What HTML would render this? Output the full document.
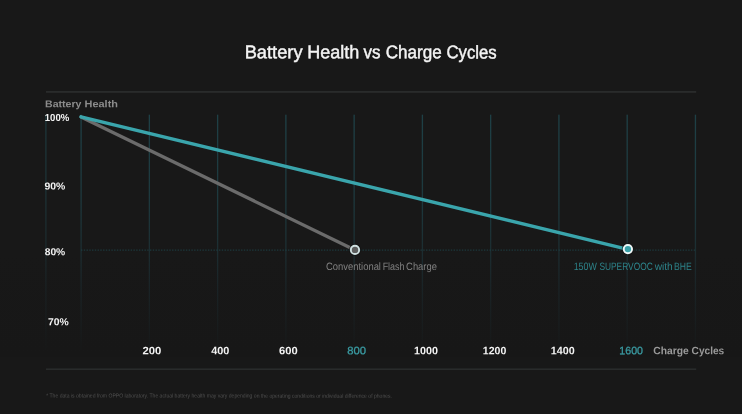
<!DOCTYPE html>
<html><head><meta charset="utf-8">
<title>Battery Health vs Charge Cycles</title>
<style>
html,body{margin:0;padding:0;background:#181818;}
body{width:742px;height:414px;overflow:hidden;position:relative;font-family:"Liberation Sans",sans-serif;}
svg{position:absolute;left:0;top:0;display:block}
text{font-family:"Liberation Sans",sans-serif;text-rendering:geometricPrecision;}
.g{fill:url(#vg)}
</style></head><body>
<svg width="742" height="414" viewBox="0 0 742 414">
<defs>
<linearGradient id="vg" x1="0" y1="114.7" x2="0" y2="350" gradientUnits="userSpaceOnUse">
<stop offset="0" stop-color="#1e4046"/>
<stop offset="0.35" stop-color="#1d393e"/>
<stop offset="0.55" stop-color="#1c2f33"/>
<stop offset="0.72" stop-color="#1a2427"/>
<stop offset="1" stop-color="#171818"/>
</linearGradient>
<linearGradient id="fade" x1="0" y1="250" x2="0" y2="357" gradientUnits="userSpaceOnUse"><stop offset="0" stop-color="#171717" stop-opacity="0"/><stop offset="1" stop-color="#171717" stop-opacity="1"/></linearGradient>
</defs>
<rect width="742" height="414" fill="#181818"/>
<g id="shapes">
<rect x="0" y="250" width="742" height="107" fill="url(#fade)"/>
<rect x="46" y="91.05" width="650.2" height="1.7" fill="#2b2d2d"/>
<rect x="46" y="368.4" width="650.2" height="1.6" fill="#292b2b"/>
<rect class="g" x="45.3" y="114.7" width="1.2" height="235.3" opacity="0.8"/>
<rect class="g" x="80.45" y="114.7" width="1.3" height="235.3"/>
<rect class="g" x="148.71" y="114.7" width="1.3" height="235.3"/>
<rect class="g" x="216.97" y="114.7" width="1.3" height="235.3"/>
<rect class="g" x="285.23" y="114.7" width="1.3" height="235.3"/>
<rect class="g" x="353.49" y="114.7" width="1.3" height="235.3"/>
<rect class="g" x="421.75" y="114.7" width="1.3" height="235.3"/>
<rect class="g" x="490.01" y="114.7" width="1.3" height="235.3"/>
<rect class="g" x="558.27" y="114.7" width="1.3" height="235.3"/>
<rect class="g" x="626.53" y="114.7" width="1.3" height="235.3"/>
<rect class="g" x="694.79" y="114.7" width="1.3" height="235.3"/>
<line x1="81" y1="250.1" x2="696" y2="250.1" stroke="#1e4146" stroke-width="1" stroke-dasharray="1.4 1.36"/>
<line x1="81" y1="116.9" x2="354.9" y2="250" stroke="#6b6b6b" stroke-width="3.3" stroke-linecap="round"/>
<line x1="81" y1="116.8" x2="627.8" y2="249.3" stroke="#3aa5ac" stroke-width="3.3" stroke-linecap="round"/>
<circle cx="355" cy="249.9" r="5.7" fill="none" stroke="#111" stroke-width="1" opacity="0.6"/>
<circle cx="355" cy="249.9" r="4.15" fill="#5c5d5d" stroke="#cfe0e0" stroke-width="1.9"/>
<circle cx="627.9" cy="249.1" r="5.7" fill="none" stroke="#111" stroke-width="1" opacity="0.6"/>
<circle cx="627.9" cy="249.1" r="4.15" fill="#38a0a8" stroke="#eef7f7" stroke-width="1.9"/>
</g>
<g id="texts">
<text y="58.30" font-size="18.4" font-weight="normal" fill="#f4f4f4" transform="rotate(0.05 371.1 51.9)" stroke="#f4f4f4" stroke-width="0.45"><tspan id="t0" x="244.68" textLength="57.91" lengthAdjust="spacingAndGlyphs">Battery</tspan> <tspan id="t1" x="307.30" textLength="52.08" lengthAdjust="spacingAndGlyphs">Health</tspan> <tspan id="t2" x="363.60" textLength="17.00" lengthAdjust="spacingAndGlyphs">vs</tspan> <tspan id="t3" x="385.79" textLength="56.02" lengthAdjust="spacingAndGlyphs">Charge</tspan> <tspan id="t4" x="446.49" textLength="50.22" lengthAdjust="spacingAndGlyphs">Cycles</tspan></text>
<text y="107.30" font-size="10" font-weight="bold" fill="#8c8c8c" transform="rotate(0.05 81.5 103.8)" ><tspan id="t5" x="45.04" textLength="36.46" lengthAdjust="spacingAndGlyphs">Battery</tspan> <tspan id="t6" x="84.52" textLength="33.45" lengthAdjust="spacingAndGlyphs">Health</tspan></text>
<text y="121.10" font-size="10.1" font-weight="bold" fill="#f4f4f4" transform="rotate(0.05 57.2 117.6)" ><tspan id="t7" x="44.79" textLength="24.52" lengthAdjust="spacingAndGlyphs">100%</tspan></text>
<text y="189.60" font-size="10.2" font-weight="bold" fill="#f4f4f4" transform="rotate(0.05 54.9 186.0)" ><tspan id="t8" x="44.44" textLength="20.82" lengthAdjust="spacingAndGlyphs">90%</tspan></text>
<text y="255.20" font-size="10.2" font-weight="bold" fill="#f4f4f4" transform="rotate(0.05 54.9 251.6)" ><tspan id="t9" x="44.69" textLength="20.56" lengthAdjust="spacingAndGlyphs">80%</tspan></text>
<text y="325.30" font-size="10.2" font-weight="bold" fill="#f4f4f4" transform="rotate(0.05 58.5 321.7)" ><tspan id="t10" x="48.09" textLength="20.72" lengthAdjust="spacingAndGlyphs">70%</tspan></text>
<text y="354.30" font-size="10.8" font-weight="bold" fill="#f4f4f4" transform="rotate(0.05 151.8 350.5)" ><tspan id="t11" x="142.54" textLength="18.83" lengthAdjust="spacingAndGlyphs">200</tspan></text>
<text y="354.30" font-size="10.8" font-weight="bold" fill="#f4f4f4" transform="rotate(0.05 220.1 350.5)" ><tspan id="t12" x="211.29" textLength="18.12" lengthAdjust="spacingAndGlyphs">400</tspan></text>
<text y="354.30" font-size="10.8" font-weight="bold" fill="#f4f4f4" transform="rotate(0.05 288.4 350.5)" ><tspan id="t13" x="279.08" textLength="18.63" lengthAdjust="spacingAndGlyphs">600</tspan></text>
<text y="354.30" font-size="10.8" font-weight="normal" fill="#3a9aa1" transform="rotate(0.05 356.6 350.5)" stroke="#3a9aa1" stroke-width="0.3"><tspan id="t14" x="347.24" textLength="18.82" lengthAdjust="spacingAndGlyphs">800</tspan></text>
<text y="354.30" font-size="10.8" font-weight="bold" fill="#f4f4f4" transform="rotate(0.05 426.1 350.5)" ><tspan id="t15" x="414.03" textLength="23.89" lengthAdjust="spacingAndGlyphs">1000</tspan></text>
<text y="354.30" font-size="10.8" font-weight="bold" fill="#f4f4f4" transform="rotate(0.05 494.7 350.5)" ><tspan id="t16" x="482.83" textLength="23.43" lengthAdjust="spacingAndGlyphs">1200</tspan></text>
<text y="354.30" font-size="10.8" font-weight="bold" fill="#f4f4f4" transform="rotate(0.05 562.8 350.5)" ><tspan id="t17" x="550.82" textLength="23.89" lengthAdjust="spacingAndGlyphs">1400</tspan></text>
<text y="354.30" font-size="10.8" font-weight="normal" fill="#3a9aa1" transform="rotate(0.05 631.3 350.5)" stroke="#3a9aa1" stroke-width="0.3"><tspan id="t18" x="619.33" textLength="23.64" lengthAdjust="spacingAndGlyphs">1600</tspan></text>
<text y="354.30" font-size="10.8" font-weight="bold" fill="#9a9a9a" transform="rotate(0.05 688.6 350.5)" ><tspan id="t19" x="653.25" textLength="35.51" lengthAdjust="spacingAndGlyphs">Charge</tspan> <tspan id="t20" x="691.59" textLength="32.62" lengthAdjust="spacingAndGlyphs">Cycles</tspan></text>
<text y="270.00" font-size="10.6" font-weight="normal" fill="#808080" transform="rotate(0.05 381.4 266.3)" ><tspan id="t21" x="326.09" textLength="54.87" lengthAdjust="spacingAndGlyphs">Conventional</tspan> <tspan id="t22" x="382.66" textLength="21.87" lengthAdjust="spacingAndGlyphs">Flash</tspan> <tspan id="t23" x="406.13" textLength="30.73" lengthAdjust="spacingAndGlyphs">Charge</tspan></text>
<text y="270.00" font-size="10.6" font-weight="normal" fill="#2d848b" transform="rotate(0.05 632.9 266.3)" ><tspan id="t24" x="573.68" textLength="23.12" lengthAdjust="spacingAndGlyphs">150W</tspan> <tspan id="t25" x="599.44" textLength="53.26" lengthAdjust="spacingAndGlyphs">SUPERVOOC</tspan> <tspan id="t26" x="654.65" textLength="18.03" lengthAdjust="spacingAndGlyphs">with</tspan> <tspan id="t27" x="674.02" textLength="17.75" lengthAdjust="spacingAndGlyphs">BHE</tspan></text>
<text y="397.60" font-size="5.7" font-weight="normal" fill="#505050" transform="rotate(0.05 219.0 395.6)" ><tspan id="t28" x="46.20" textLength="345.85" lengthAdjust="spacingAndGlyphs">* The data is obtained from OPPO laboratory. The actual battery health may vary depending on the operating conditions or individual difference of phones.</tspan></text>
</g>
</svg>
</body></html>
